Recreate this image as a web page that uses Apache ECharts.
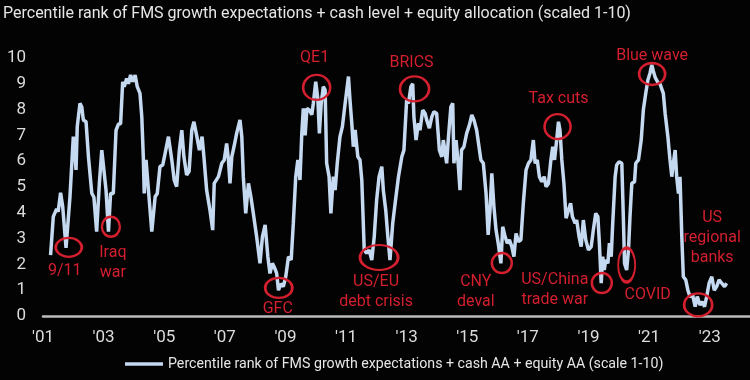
<!DOCTYPE html>
<html>
<head>
<meta charset="utf-8">
<script src="https://cdn.jsdelivr.net/npm/echarts@6/dist/echarts.min.js"></script>
<style>
html,body{margin:0;padding:0;background:#030303;}
#chart{width:750px;height:380px;}
</style>
</head>
<body>
<div id="chart"></div>
<script>
// Decimal years (x) and scaled percentile rank (y)
const years = [
2001.25,2001.34,2001.45,2001.50,2001.58,2001.65,2001.76,2001.89,2002.00,2002.05,2002.09,2002.13,2002.22,2002.28,2002.33,2002.42,2002.50,2002.61,2002.68,2002.77,2002.86,2002.94,2002.99,2003.08,2003.16,2003.23,2003.32,2003.41,2003.49,2003.56,2003.63,2003.68,2003.76,2003.82,2003.89,2003.96,2004.04,2004.11,2004.20,2004.26,2004.31,2004.34,2004.40,2004.48,2004.59,2004.70,2004.77,2004.86,2004.95,2005.03,2005.14,2005.19,2005.25,2005.33,2005.41,2005.50,2005.58,2005.65,2005.74,2005.82,2005.91,2005.98,2006.07,2006.16,2006.25,2006.31,2006.40,2006.51,2006.60,2006.65,
2006.79,2006.90,2006.98,2007.06,2007.12,2007.17,2007.23,2007.31,2007.39,2007.50,2007.56,2007.61,2007.69,2007.78,2007.86,2007.94,2008.05,2008.16,2008.24,2008.33,2008.42,2008.49,2008.57,2008.63,2008.71,2008.77,2008.85,2008.93,2009.01,2009.10,2009.19,2009.26,2009.34,2009.41,2009.48,2009.54,2009.59,2009.65,2009.71,2009.79,2009.87,2009.92,2010.00,2010.07,2010.12,2010.18,2010.25,2010.31,2010.36,2010.44,2010.50,2010.58,2010.64,2010.71,2010.80,2010.88,2010.97,2011.08,2011.13,2011.19,2011.24,2011.30,2011.39,2011.46,2011.52,2011.60,2011.68,2011.76,2011.85,2011.93,2012.01,2012.09,2012.18,2012.23,2012.31,2012.38,2012.45,
2012.54,2012.62,2012.73,2012.84,2012.91,2013.00,2013.06,2013.14,2013.20,2013.24,2013.31,2013.39,2013.44,2013.53,2013.61,2013.66,2013.75,2013.83,2013.90,2013.99,2014.08,2014.16,2014.21,2014.32,2014.38,2014.46,2014.52,2014.56,2014.63,2014.70,2014.76,2014.81,2014.89,2014.98,2015.07,2015.15,2015.22,2015.31,2015.37,2015.45,2015.53,2015.62,2015.69,2015.75,2015.81,2015.88,2015.95,2016.03,2016.11,2016.17,2016.25,2016.32,2016.39,2016.47,2016.54,2016.61,2016.69,2016.77,2016.85,2016.94,2017.02,2017.10,2017.18,2017.24,2017.31,2017.38,2017.46,2017.54,2017.60,2017.68,2017.76,2017.82,2017.88,2017.95,2018.01,2018.06,2018.12,2018.19,2018.26,2018.34,
2018.41,2018.47,2018.56,2018.61,2018.69,2018.76,2018.83,2018.91,2019.00,2019.09,2019.16,2019.24,2019.31,2019.36,2019.42,2019.47,2019.52,2019.57,2019.64,2019.69,2019.75,2019.80,2019.88,2019.93,2020.01,2020.10,2020.15,2020.19,2020.26,2020.32,2020.37,2020.43,2020.52,2020.56,2020.65,2020.74,2020.81,2020.89,2020.96,2021.03,2021.09,2021.14,2021.20,2021.29,2021.36,2021.42,2021.47,2021.53,2021.62,2021.69,2021.75,2021.80,2021.86,2021.91,2021.97,2022.02,2022.08,2022.13,2022.21,2022.28,2022.35,2022.44,2022.52,2022.59,2022.68,2022.76,2022.83,2022.90,2022.98,2023.07,2023.15,2023.23,2023.31,2023.40,2023.49,2023.56
];
const values = [
2.36,3.85,4.15,4.04,4.78,4.24,2.64,4.62,6.95,6.43,5.66,7.34,8.24,8.10,7.60,7.53,6.17,4.76,4.60,3.27,5.15,6.43,6.50,4.88,3.27,4.75,4.75,7.20,7.44,7.45,9.08,8.89,9.21,9.00,9.34,9.08,9.34,8.89,8.63,7.72,6.17,4.75,6.05,4.88,3.27,4.62,4.75,5.79,5.85,6.30,6.95,7.00,6.05,5.27,5.01,6.43,7.20,6.17,5.47,5.60,7.20,7.53,7.00,6.43,6.95,6.17,4.88,4.10,3.33,5.14,
5.40,5.92,6.05,6.69,6.05,5.14,6.17,6.60,7.08,7.60,6.95,5.40,3.98,5.14,4.62,3.98,3.07,2.04,3.07,3.53,2.30,1.65,2.04,1.90,1.65,1.00,1.25,1.14,1.52,2.30,2.17,3.59,5.40,6.05,5.27,7.08,8.05,7.00,8.05,7.98,7.80,8.24,9.08,8.40,7.08,8.24,8.89,8.76,5.92,5.40,3.98,5.40,4.88,5.92,6.95,7.34,8.24,9.28,8.37,7.47,6.56,7.21,6.17,6.05,5.27,2.56,2.43,2.56,2.17,3.07,4.50,5.40,5.79,4.88,4.10,3.07,2.17,
3.59,4.37,5.40,6.17,6.43,8.37,8.24,8.89,9.00,7.72,6.82,7.47,7.20,7.98,7.85,7.60,7.28,7.72,7.92,7.85,6.43,6.17,6.82,5.92,6.95,8.11,8.24,5.92,6.82,5.92,4.88,6.43,6.56,7.08,7.40,7.79,7.60,7.20,7.20,6.05,5.92,4.75,3.14,4.10,5.53,4.24,3.33,2.75,2.04,3.46,3.07,2.82,2.95,2.69,2.30,3.20,2.88,2.95,4.37,5.66,5.92,6.05,6.82,5.92,6.05,5.40,5.20,5.40,5.01,5.14,6.05,6.56,6.05,6.82,7.53,7.20,6.05,5.14,3.79,4.10,
4.37,3.85,3.59,3.72,3.07,2.69,3.72,2.95,2.56,2.69,3.33,3.98,3.85,2.82,1.27,2.30,1.78,2.17,2.04,2.82,2.30,3.59,5.40,5.85,5.98,5.92,3.85,2.04,1.78,2.56,3.85,5.14,5.20,5.92,6.05,6.82,7.98,8.63,9.15,9.41,9.73,9.50,9.25,9.05,9.00,8.95,8.63,7.85,6.95,6.05,5.40,5.92,6.43,5.40,4.75,5.40,3.07,1.52,1.40,1.00,0.75,0.80,0.36,0.75,0.43,0.55,0.36,0.75,1.27,1.52,1.00,1.14,1.40,1.27,1.14,1.27
];

const tickYears = [2001,2003,2005,2007,2009,2011,2013,2015,2017,2019,2021,2023];
const tickLabels = ["'01","'03","'05","'07","'09","'11","'13","'15","'17","'19","'21","'23"];

const eventNames = ['9/11','Iraq\nwar','GFC','QE1','US/EU\ndebt crisis','BRICS','CNY\ndeval','Tax cuts','US/China\ntrade war','COVID','Blue wave','US\nregional\nbanks'];
const eventYears = [2001.85,2003.24,2008.78,2010.03,2012.09,2013.26,2016.14,2017.98,2019.44,2020.26,2021.10,2022.62];
const eventValues = [2.66,3.46,1.09,8.86,2.27,8.80,2.05,7.34,1.28,1.98,9.38,0.43];

const title = 'Percentile rank of FMS growth expectations + cash level + equity allocation (scaled 1-10)';
const seriesName = 'Percentile rank of FMS growth expectations + cash AA + equity AA (scale 1-10)';

// layout for annotations: ellipse size [w,h] and label offset [dx,dy]
const eventLayout = [
  {size:[26,19], off:[-4,24]},
  {size:[18,20], off:[2,36]},
  {size:[27,20], off:[-1,21]},
  {size:[27,25], off:[-2,-29]},
  {size:[38,25], off:[-3,35]},
  {size:[29,25], off:[-3,-26]},
  {size:[20,20], off:[-26,29]},
  {size:[26,25], off:[1,-28]},
  {size:[20,20], off:[-47,7]},
  {size:[17,34], off:[21,30]},
  {size:[26,22], off:[0,-18]},
  {size:[28,23], off:[14,-67]}
];

const FONT = "Roboto, 'Liberation Sans', sans-serif";
const RED = '#d41f2f';
const LINE = '#c5d9f1';

const chart = echarts.init(document.getElementById('chart'), null, {renderer:'canvas'});
chart.setOption({
  backgroundColor: '#030303',
  animation: false,
  title: {
    text: title, left: 2, top: 6, padding: [0, 0, 0, 1],
    textStyle: {color:'#e6e6e6', fontSize:16, fontWeight:'normal', fontFamily:FONT}
  },
  legend: {
    left: 125, top: 357, padding: 0,
    icon: 'rect', itemWidth: 38, itemHeight: 3.5, itemGap: 10,
    textStyle: {color:'#e6e6e6', fontSize:14.2, fontFamily:FONT},
    data: [seriesName]
  },
  grid: {left: 43, right: 0, top: 58, bottom: 64},
  xAxis: {
    type: 'value', min: 2001, max: 2024.33,
    splitLine: {show:false},
    axisTick: {show:false},
    axisLine: {show:true, lineStyle:{color:'#bdbdbd', width:2.5}},
    axisLabel: {
      color:'#dcdcdc', fontSize:17, fontFamily:FONT, margin:13,
      customValues: tickYears,
      formatter: v => tickLabels[tickYears.indexOf(Math.round(v))] || ''
    }
  },
  yAxis: {
    type: 'value', min: 0, max: 10, interval: 1,
    splitLine: {show:false},
    axisTick: {show:false},
    axisLine: {show:false},
    axisLabel: {color:'#dcdcdc', fontSize:17, fontFamily:FONT, margin:17}
  },
  series: [{
    name: seriesName,
    type: 'line',
    data: years.map((y,i)=>[y, values[i]]),
    showSymbol: false,
    symbol: 'none',
    lineStyle: {color: LINE, width: 3.5},
    itemStyle: {color: LINE},
    markPoint: {
      symbol: 'circle',
      silent: true,
      data: eventNames.map((n,i)=>({
        name: n,
        coord: [eventYears[i], eventValues[i]],
        symbolSize: eventLayout[i].size,
        itemStyle: {color:'rgba(0,0,0,0)', borderColor: RED, borderWidth: 2.5},
        label: {
          show: true, position: 'inside', offset: eventLayout[i].off,
          formatter: n, color: RED, fontSize: 16, lineHeight: 20,
          fontFamily: FONT, align: 'center'
        }
      }))
    }
  }]
});
</script>
</body>
</html>
